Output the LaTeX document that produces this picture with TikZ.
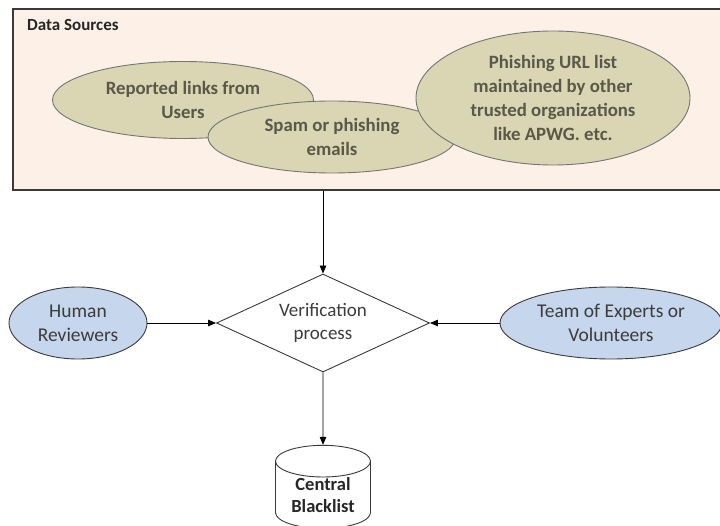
\documentclass[tikz,border=0pt]{standalone}
\usepackage{fontspec}
\setmainfont{Carlito}
\usetikzlibrary{shapes.geometric,arrows.meta}
\definecolor{peach}{HTML}{FDF1E7}
\definecolor{tan}{HTML}{DAD5B2}
\definecolor{tantext}{HTML}{5B5849}
\definecolor{bluefill}{HTML}{C6D6EC}
\definecolor{edge}{HTML}{3A3A3A}
\definecolor{txt}{HTML}{3C3C3C}
\tikzset{
  srcell/.style={ellipse, draw=edge!70, line width=0.9pt, fill=tan, inner sep=0pt, align=center,
    text=tantext, font=\bfseries\fontsize{18.8}{24}\selectfont},
  blueell/.style={ellipse, draw=edge, line width=0.9pt, fill=bluefill, inner sep=0pt, align=center,
    text=txt, font=\fontsize{19.5}{24}\selectfont},
  conn/.style={-{Triangle[length=8pt,width=6.5pt]}, line width=0.9pt, black}
}
\begin{document}
\begin{tikzpicture}[x=1pt,y=-1pt]
\useasboundingbox (0,0) rectangle (720,526);
\clip (0,0) rectangle (720,526);
% data sources box
\node[draw=edge, line width=1.1pt, fill=peach, minimum width=711pt, minimum height=181pt, inner sep=0pt]
  (src) at (368.5,99.5) {};
\node[anchor=base west, inner sep=0pt, text=black!85, font=\bfseries\fontsize{17}{20}\selectfont]
  (srclbl) at (27,31) {Data Sources};
\node[srcell, minimum width=261pt, minimum height=77pt] (e1) at (183,100) {Reported links from\\Users};
\node[srcell, minimum width=248pt, minimum height=72pt] (e2) at (332,137) {Spam or phishing\\emails};
\node[srcell, minimum width=274pt, minimum height=134pt] (e3) at (553,98) {Phishing URL list\\maintained by other\\trusted organizations\\like APWG. etc.};
% verification
\node[diamond, draw=edge, line width=0.9pt, fill=white, minimum width=213pt, minimum height=98pt, inner sep=0pt,
  shape aspect=2.17, align=center, text=txt, font=\fontsize{19}{23}\selectfont]
  (dia) at (323,323) {Verification\\process};
\node[blueell, minimum width=138pt, minimum height=72pt] (hum) at (78,323) {Human\\Reviewers};
\node[blueell, minimum width=222pt, minimum height=72pt] (team) at (611,323) {Team of Experts or\\Volunteers};
% blacklist
\node[cylinder, shape border rotate=90, draw=edge, line width=0.9pt, fill=white, aspect=0.5,
  minimum width=95pt, minimum height=75pt, inner sep=0pt, align=center, text=black!85,
  font=\bfseries\fontsize{18.5}{22}\selectfont] (cyl) at (323,495) {Central\\Blacklist};
% connectors
\draw[conn] (dia.north |- src.south) -- (dia.north);
\draw[conn] (hum.east) -- (dia.west);
\draw[conn] (team.west) -- (dia.east);
\draw[conn] (dia.south) -- (cyl.north);
\end{tikzpicture}
\end{document}
